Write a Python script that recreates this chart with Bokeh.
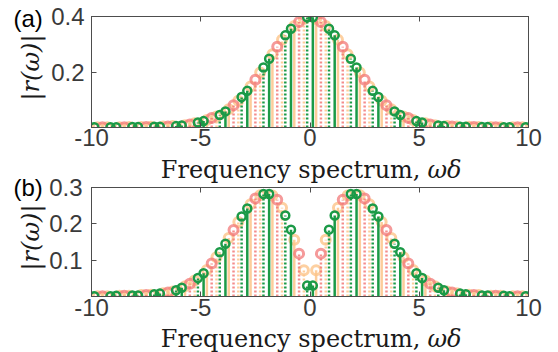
from math import pi

from bokeh.embed import file_html
from bokeh.layouts import column, row
from bokeh.models import ColumnDataSource, FixedTicker, Label, LinearAxis, Range1d
from bokeh.plotting import figure
from bokeh.resources import INLINE

# Sample positions (omega*delta) of the five stem series
x_green_solid = [-9.87, -8.87, -7.87, -6.87, -5.87, -4.87, -3.87, -2.87, -1.87, -0.87,
                 0.13, 1.13, 2.13, 3.13, 4.13, 5.13, 6.13, 7.13, 8.13, 9.13]
x_green_dot = [-9.13, -8.13, -7.13, -6.13, -5.13, -4.13, -3.13, -2.13, -1.13, -0.13,
               0.87, 1.87, 2.87, 3.87, 4.87, 5.87, 6.87, 7.87, 8.87, 9.87]
x_red_dot = [-9.5, -8.5, -7.5, -6.5, -5.5, -4.5, -3.5, -2.5, -1.5, -0.5,
             0.5, 1.5, 2.5, 3.5, 4.5, 5.5, 6.5, 7.5, 8.5, 9.5]
x_orange_solid = [-9.72, -8.72, -7.72, -6.72, -5.72, -4.72, -3.72, -2.72, -1.72, -0.72,
                  0.28, 1.28, 2.28, 3.28, 4.28, 5.28, 6.28, 7.28, 8.28, 9.28]
x_orange_dot = [-9.28, -8.28, -7.28, -6.28, -5.28, -4.28, -3.28, -2.28, -1.28, -0.28,
                0.72, 1.72, 2.72, 3.72, 4.72, 5.72, 6.72, 7.72, 8.72, 9.72]

# (a) |r(omega)| values
a_green_solid = [0.001, 0.001, 0.002, 0.003, 0.007, 0.023, 0.058, 0.132, 0.248, 0.356,
                 0.397, 0.332, 0.216, 0.110, 0.045, 0.018, 0.005, 0.003, 0.002, 0.001]
a_green_dot = [0.001, 0.002, 0.003, 0.005, 0.018, 0.045, 0.110, 0.216, 0.332, 0.397,
               0.356, 0.248, 0.132, 0.058, 0.023, 0.007, 0.003, 0.002, 0.001, 0.001]
a_red_dot = [0.001, 0.001, 0.002, 0.004, 0.011, 0.034, 0.080, 0.172, 0.291, 0.380,
             0.380, 0.291, 0.172, 0.080, 0.034, 0.011, 0.004, 0.002, 0.001, 0.001]
a_orange_solid = [0.001, 0.001, 0.002, 0.004, 0.008, 0.027, 0.066, 0.148, 0.264, 0.366,
                  0.391, 0.316, 0.198, 0.096, 0.040, 0.015, 0.005, 0.003, 0.002, 0.001]
a_orange_dot = [0.001, 0.002, 0.003, 0.005, 0.015, 0.040, 0.096, 0.198, 0.316, 0.391,
                0.366, 0.264, 0.148, 0.066, 0.027, 0.008, 0.004, 0.002, 0.001, 0.001]

# (b) |r(omega)| values
b_green_solid = [0.001, 0.002, 0.003, 0.008, 0.024, 0.064, 0.145, 0.242, 0.282, 0.184,
                 0.030, 0.223, 0.282, 0.220, 0.122, 0.051, 0.017, 0.006, 0.003, 0.001]
b_green_dot = [0.001, 0.003, 0.006, 0.017, 0.051, 0.122, 0.220, 0.282, 0.223, 0.030,
               0.184, 0.282, 0.242, 0.145, 0.064, 0.024, 0.008, 0.003, 0.002, 0.001]
b_red_dot = [0.001, 0.002, 0.004, 0.011, 0.035, 0.091, 0.183, 0.270, 0.266, 0.118,
             0.118, 0.266, 0.270, 0.183, 0.091, 0.035, 0.011, 0.004, 0.002, 0.001]
b_orange_solid = [0.001, 0.002, 0.004, 0.009, 0.028, 0.073, 0.161, 0.254, 0.278, 0.156,
                  0.072, 0.244, 0.279, 0.205, 0.108, 0.044, 0.014, 0.005, 0.002, 0.001]
b_orange_dot = [0.001, 0.002, 0.005, 0.014, 0.044, 0.108, 0.205, 0.279, 0.244, 0.072,
                0.156, 0.278, 0.254, 0.161, 0.073, 0.028, 0.009, 0.004, 0.002, 0.001]

x_ticks = [-10, -5, 0, 5, 10]
x_tick_text = {-10: "-10", -5: "-5", 0: "0", 5: "5", 10: "10"}
a_ticks = [0.2, 0.4]
b_ticks = [0.1, 0.2, 0.3]

AXIS = "#4d4d4d"
GREEN = "#1b9a47"
RED = "#f27878"
ORANGE = "#fdc48a"
SANS = "Liberation Sans"
SERIF = "DejaVu Serif"
INK = "#1a1a1a"
TOTAL_H = 352


def style_labels(ax):
    ax.major_label_text_font = SANS
    ax.major_label_text_font_size = "24px"
    ax.major_label_text_color = "#3a3a3a"


def tick_style(ax):
    ax.major_tick_in = 5
    ax.major_tick_out = 0
    ax.minor_tick_line_color = None
    ax.axis_line_color = AXIS
    ax.major_tick_line_color = AXIS


def hide_labels(ax):
    ax.major_label_text_font_size = "1px"
    ax.major_label_text_color = None
    ax.major_label_standoff = 0


def labels_only(ax):
    ax.major_tick_in = 0
    ax.major_tick_out = 0
    ax.minor_tick_line_color = None
    ax.major_tick_line_color = None
    ax.axis_line_color = None
    style_labels(ax)


def blank(fig):
    fig.outline_line_color = None
    fig.background_fill_color = "white"
    fig.border_fill_color = "white"
    fig.xgrid.visible = False
    fig.ygrid.visible = False


def stems(p, xs, ys, color, dash, alpha, size, mline, malpha):
    src = ColumnDataSource(dict(x=xs, y=ys, y0=[0.0] * len(xs)))
    p.segment(x0="x", y0="y0", x1="x", y1="y", source=src, line_color=color,
              line_width=2.5, line_dash=dash, line_alpha=alpha)
    p.scatter(x="x", y="y", source=src, marker="circle", size=size, fill_color=None,
              line_color=color, line_width=mline, line_alpha=malpha)


def panel(width, height, left, top, bottom, ymax, yticks, series, own_labels):
    p = figure(width=width, height=height, output_backend="svg", toolbar_location=None,
               title=None, x_range=Range1d(-10, 10), y_range=Range1d(0, ymax),
               min_border_left=left, min_border_right=30,
               min_border_top=top, min_border_bottom=bottom, frame_align=False)
    p.background_fill_color = "white"
    p.border_fill_color = "white"
    p.outline_line_color = AXIS
    p.grid.visible = False

    xa, ya = p.xaxis[0], p.yaxis[0]
    xa.ticker = FixedTicker(ticks=x_ticks)
    ya.ticker = FixedTicker(ticks=yticks)
    for ax in (xa, ya):
        tick_style(ax)
    if own_labels:
        style_labels(xa)
        xa.major_label_overrides = x_tick_text
        xa.major_label_standoff = 1
        style_labels(ya)
        ya.major_label_standoff = 7
    else:
        hide_labels(xa)
        hide_labels(ya)

    # tick marks on the top and right edges of the box, without labels
    for loc, ticks in (("above", x_ticks), ("right", yticks)):
        ax = LinearAxis(ticker=FixedTicker(ticks=ticks))
        tick_style(ax)
        hide_labels(ax)
        p.add_layout(ax, loc)

    od, os_, rd, gd, gs = series
    stems(p, x_orange_dot, od, ORANGE, "2 2", 0.85, 9, 3, 0.8)
    stems(p, x_orange_solid, os_, ORANGE, "solid", 0.85, 9, 3, 0.8)
    stems(p, x_red_dot, rd, RED, "2 2", 0.85, 9, 3, 0.75)
    stems(p, x_green_dot, gd, GREEN, "2 2", 1.0, 8, 2.5, 1.0)
    stems(p, x_green_solid, gs, GREEN, "solid", 1.0, 8, 2.5, 1.0)
    return p


def y_scale_column(height, top, bottom, ymax, yticks):
    # narrow canvas carrying the y tick labels of panel (b)
    s = figure(width=44, height=height, output_backend="svg", toolbar_location=None,
               title=None, x_range=Range1d(0, 1), y_range=Range1d(0, ymax),
               x_axis_location=None, min_border_left=43, min_border_right=0,
               min_border_top=top, min_border_bottom=bottom, frame_align=False)
    blank(s)
    ya = s.yaxis[0]
    ya.ticker = FixedTicker(ticks=yticks)
    labels_only(ya)
    ya.major_label_standoff = 7
    return s


def x_scale_row(height):
    # flat canvas carrying the x tick labels of panel (b)
    s = figure(width=512, height=height, output_backend="svg", toolbar_location=None,
               title=None, x_range=Range1d(-10, 10), y_range=Range1d(0, 1),
               y_axis_location=None, min_border_left=45, min_border_right=30,
               min_border_top=0, min_border_bottom=height - 1, frame_align=False)
    blank(s)
    xa = s.xaxis[0]
    xa.ticker = FixedTicker(ticks=x_ticks)
    labels_only(xa)
    xa.major_label_overrides = x_tick_text
    xa.major_label_standoff = 0
    return s


def strip(w, h):
    # blank canvas (1 data unit = 1 px, measured from its bottom-left) that carries text
    s = figure(width=w, height=h, output_backend="svg", toolbar_location=None,
               title=None, x_range=Range1d(0, w), y_range=Range1d(0, h),
               x_axis_location=None, y_axis_location=None, min_border=0,
               frame_align=False)
    blank(s)
    return s


def side():
    s = strip(46, TOTAL_H)
    for tag, tag_y, lab_y in (("(a)", 17.5, 67), ("(b)", 186.5, 237)):
        s.add_layout(Label(x=13, y=TOTAL_H - tag_y, text=tag, text_font=SANS,
                           text_font_size="24px", text_color="black",
                           text_align="left", text_baseline="middle"))
        s.add_layout(Label(x=30, y=TOTAL_H - lab_y, text="|r(ω)|", text_font=SERIF,
                           text_font_style="italic", text_font_size="24px",
                           text_color=INK, angle=pi / 2,
                           text_align="center", text_baseline="middle"))
    return s


def xlabel(w, h, right_x, mid):
    s = strip(w, h)
    s.add_layout(Label(x=right_x, y=mid, text="Frequency spectrum,", text_font=SERIF,
                       text_font_size="24px", text_color=INK,
                       text_align="right", text_baseline="middle"))
    s.add_layout(Label(x=right_x + 7, y=mid, text="ωδ", text_font=SERIF,
                       text_font_style="italic", text_font_size="24px", text_color=INK,
                       text_align="left", text_baseline="middle"))
    return s


p1 = panel(512, 155, 45, 16, 28, 0.4, a_ticks,
           (a_orange_dot, a_orange_solid, a_red_dot, a_green_dot, a_green_solid), True)
p2 = panel(468, 114, 1, 4, 1, 0.3, b_ticks,
           (b_orange_dot, b_orange_solid, b_red_dot, b_green_dot, b_green_solid), False)

middle = row(y_scale_column(142, 32, 1, 0.3, b_ticks),
             column(xlabel(468, 28, 330, 14), p2, spacing=0),
             spacing=0)
p = row(side(),
        column(p1, middle, x_scale_row(28), xlabel(512, 27, 374, 13.5), spacing=0),
        spacing=0)
open("out.html", "w").write(file_html(p, INLINE))
